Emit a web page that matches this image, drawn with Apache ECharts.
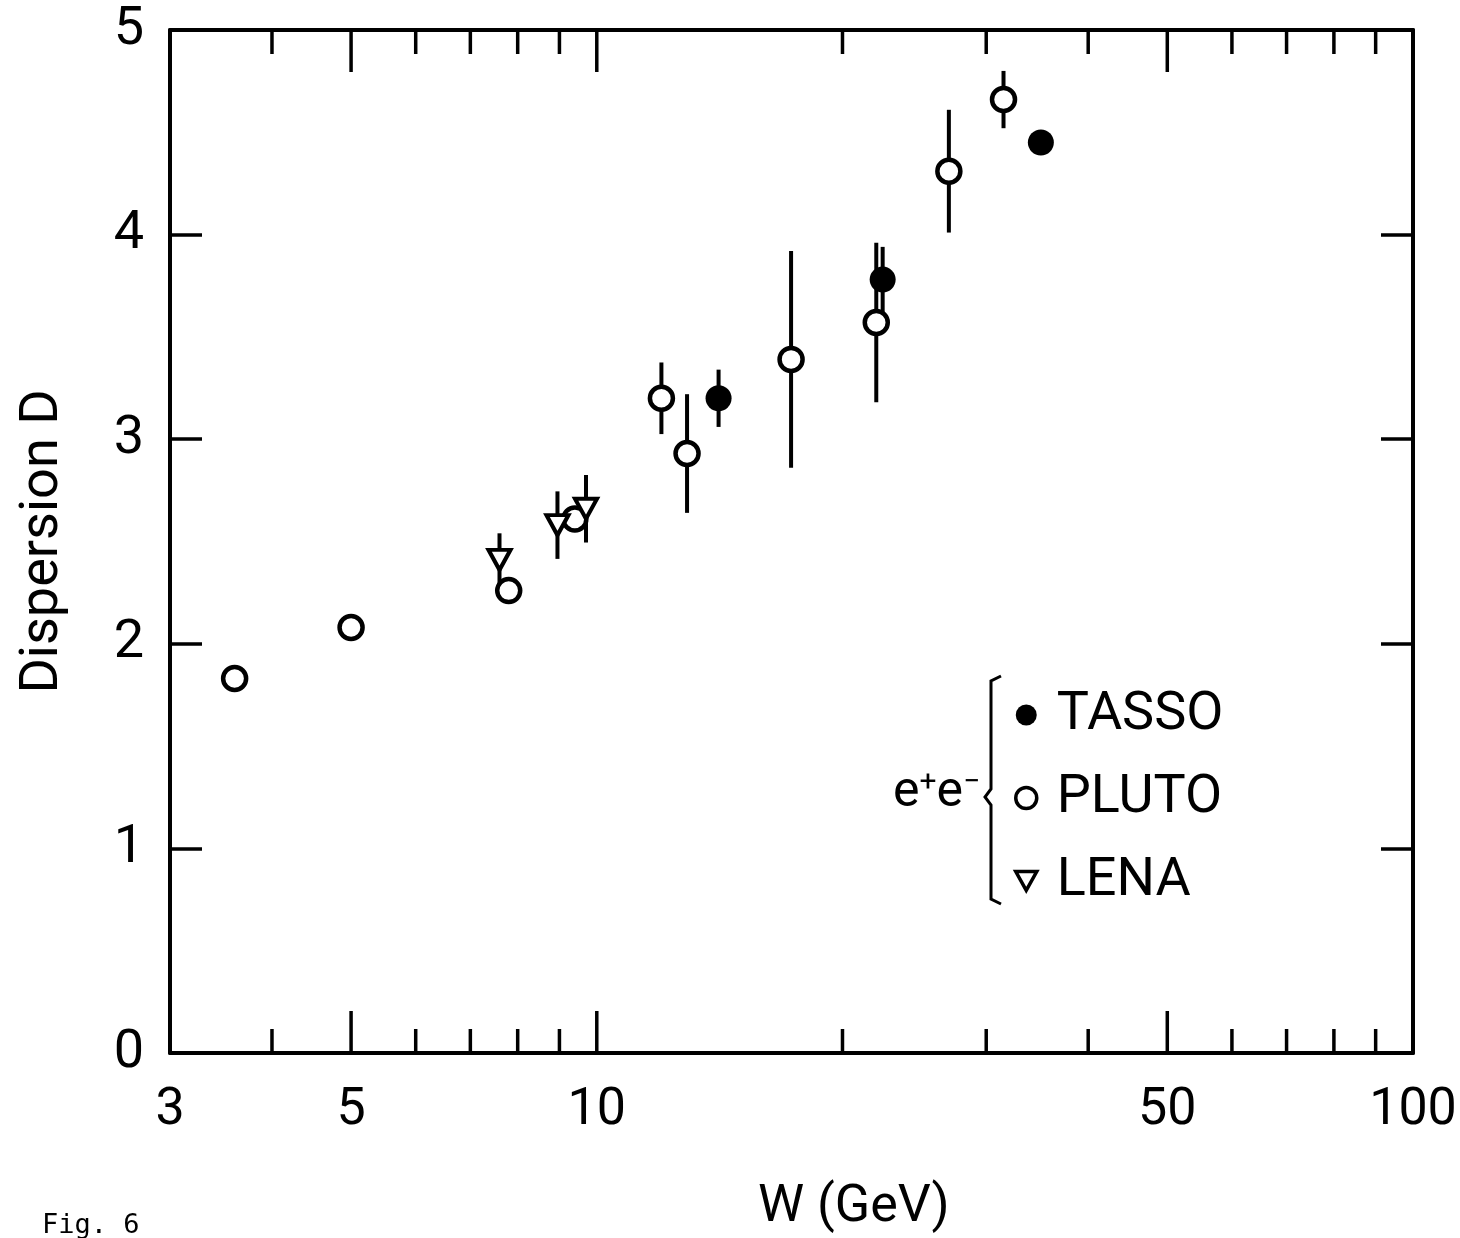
<!DOCTYPE html>
<html>
<head>
<meta charset="UTF-8">
<title>Dispersion D vs W</title>
<script src="https://cdn.jsdelivr.net/npm/echarts@6/dist/echarts.min.js"></script>
<style>
  html, body { margin: 0; padding: 0; background: #fff; }
  #chart { width: 1460px; height: 1238px; }
</style>
</head>
<body>
<div id="chart"></div>
<script>
// TASSO (filled circles)
var tassoW = [14.1, 22.4, 35.0];
var tassoD = [3.20, 3.78, 4.45];
var tassoErr = [0.14, 0.16, 0];
// PLUTO (open circles)
var plutoW = [3.6, 5.0, 7.8, 9.4, 12.0, 12.9, 17.3, 22.0, 27.0, 31.5];
var plutoD = [1.83, 2.08, 2.26, 2.61, 3.20, 2.93, 3.39, 3.57, 4.31, 4.66];
var plutoErr = [0, 0, 0, 0, 0.175, 0.29, 0.53, 0.39, 0.30, 0.14];
// LENA (open down triangles)
var lenaW = [7.6, 8.95, 9.7];
var lenaD = [2.41, 2.58, 2.66];
var lenaErr = [0.13, 0.165, 0.165];

// log axis ticks and labels
var xTicks = [4, 5, 6, 7, 8, 9, 10, 20, 30, 40, 50, 60, 70, 80, 90];
var xMajor = [5, 10, 50];
var xLabels = [3, 5, 10, 50, 100];

var FONT = 'Roboto';
var DOWN_TRI = 'path://M0,0 L20,0 L10,18 Z';

function points(ws, ds) {
    return ws.map(function (w, i) { return [w, ds[i]]; });
}
function bars(ws, ds, es) {
    var out = [];
    ws.forEach(function (w, i) {
        if (es[i] > 0) out.push([w, ds[i] - es[i], ds[i] + es[i]]);
    });
    return out;
}

function errRender(params, api) {
    var a = api.coord([api.value(0), api.value(1)]);
    var b = api.coord([api.value(0), api.value(2)]);
    return {
        type: 'line',
        shape: { x1: a[0], y1: a[1], x2: b[0], y2: b[1] },
        style: { stroke: '#000', lineWidth: 4 }
    };
}

function tickRender(params, api) {
    var v = api.value(0);
    var bot = api.coord([v, 0]);
    var top = api.coord([v, 5]);
    var len = xMajor.indexOf(v) >= 0 ? 42 : 24;
    return {
        type: 'group',
        children: [
            { type: 'line', shape: { x1: bot[0], y1: bot[1], x2: bot[0], y2: bot[1] - len },
              style: { stroke: '#000', lineWidth: 3.5 } },
            { type: 'line', shape: { x1: top[0], y1: top[1], x2: top[0], y2: top[1] + len },
              style: { stroke: '#000', lineWidth: 3.5 } }
        ]
    };
}

function labelRender(params, api) {
    var v = api.value(0);
    var p = api.coord([v, 0]);
    return {
        type: 'text',
        x: p[0], y: p[1] + 58,
        style: {
            text: String(v), fill: '#000', font: '52px ' + FONT,
            align: 'center', verticalAlign: 'middle'
        }
    };
}

var chart = echarts.init(document.getElementById('chart'));

var yAxisBase = {
    type: 'value', min: 0, max: 5, interval: 1,
    axisLine: { show: true, lineStyle: { color: '#000', width: 4 } },
    axisTick: { show: true, inside: true, length: 32, lineStyle: { color: '#000', width: 3.5 } },
    splitLine: { show: false }
};
var xAxisBase = {
    type: 'log', logBase: 10, min: 3, max: 100,
    axisLine: { show: true, onZero: false, lineStyle: { color: '#000', width: 4 } },
    axisTick: { show: false },
    axisLabel: { show: false },
    splitLine: { show: false }
};

chart.setOption({
    animation: false,
    backgroundColor: '#fff',
    grid: { left: 170, right: 47, top: 30, bottom: 185 },
    xAxis: [
        Object.assign({ position: 'bottom' }, xAxisBase),
        Object.assign({ position: 'top' }, xAxisBase)
    ],
    yAxis: [
        Object.assign({}, yAxisBase, {
            position: 'left',
            axisLabel: { show: true, color: '#000', fontSize: 54, fontFamily: FONT, margin: 26 },
            name: 'Dispersion D', nameLocation: 'middle', nameGap: 100,
            nameTextStyle: { color: '#000', fontSize: 54, fontFamily: FONT }
        }),
        Object.assign({}, yAxisBase, { position: 'right', axisLabel: { show: false } })
    ],
    legend: {
        orient: 'vertical', left: 1009, top: 683, itemGap: 29,
        itemWidth: 21, itemHeight: 21,
        textStyle: { color: '#000', fontSize: 54, fontFamily: FONT, padding: [0, 0, 0, 15] },
        data: [
            { name: 'TASSO', itemStyle: { borderWidth: 0 } },
            { name: 'PLUTO', itemStyle: { borderWidth: 3.5 } },
            { name: 'LENA', icon: DOWN_TRI, itemStyle: { borderWidth: 3.5 } }
        ]
    },
    graphic: [
        { type: 'polyline', z: 10,
          shape: { points: [[1001, 676], [991, 681], [991, 789], [985, 797], [991, 805], [991, 899], [1001, 904]] },
          style: { stroke: '#000', lineWidth: 3, fill: null } },
        { type: 'text', z: 10, left: 893, top: 768,
          style: {
              text: '{e|e}{s|+}{e|e}{s|\u2212}',
              rich: {
                  e: { fontSize: 50, fontFamily: FONT, fill: '#000' },
                  s: { fontSize: 30, fontFamily: FONT, fill: '#000', verticalAlign: 'top', padding: [0, 0, 20, 0] }
              }
          } },
        { type: 'text', z: 10, left: 758, top: 1182,
          style: { text: 'W (GeV)', fill: '#000', font: '52px ' + FONT } },
        { type: 'text', z: 10, left: 42, top: 1212,
          style: { text: 'Fig. 6', fill: '#000', font: '27px "DejaVu Sans Mono"' } }
    ],
    series: [
        { type: 'custom', name: 'ticks', renderItem: tickRender, silent: true, z: 1,
          data: xTicks.map(function (v) { return [v, 0]; }) },
        { type: 'custom', name: 'labels', renderItem: labelRender, silent: true, z: 1,
          data: xLabels.map(function (v) { return [v, 0]; }) },
        { type: 'custom', name: 'errTasso', renderItem: errRender, silent: true, z: 2,
          data: bars(tassoW, tassoD, tassoErr) },
        { type: 'custom', name: 'errPluto', renderItem: errRender, silent: true, z: 2,
          data: bars(plutoW, plutoD, plutoErr) },
        { type: 'custom', name: 'errLena', renderItem: errRender, silent: true, z: 2,
          data: bars(lenaW, lenaD, lenaErr) },
        { type: 'scatter', name: 'TASSO', z: 5, symbol: 'circle', symbolSize: 26,
          itemStyle: { color: '#000', opacity: 1 },
          data: points(tassoW, tassoD) },
        { type: 'scatter', name: 'PLUTO', z: 5, symbol: 'circle', symbolSize: 23,
          itemStyle: { color: '#fff', borderColor: '#000', borderWidth: 4.5, opacity: 1 },
          data: points(plutoW, plutoD) },
        { type: 'scatter', name: 'LENA', z: 5, symbol: DOWN_TRI, symbolSize: [22, 20],
          itemStyle: { color: '#fff', borderColor: '#000', borderWidth: 4, opacity: 1 },
          data: points(lenaW, lenaD) }
    ]
});
</script>
</body>
</html>
